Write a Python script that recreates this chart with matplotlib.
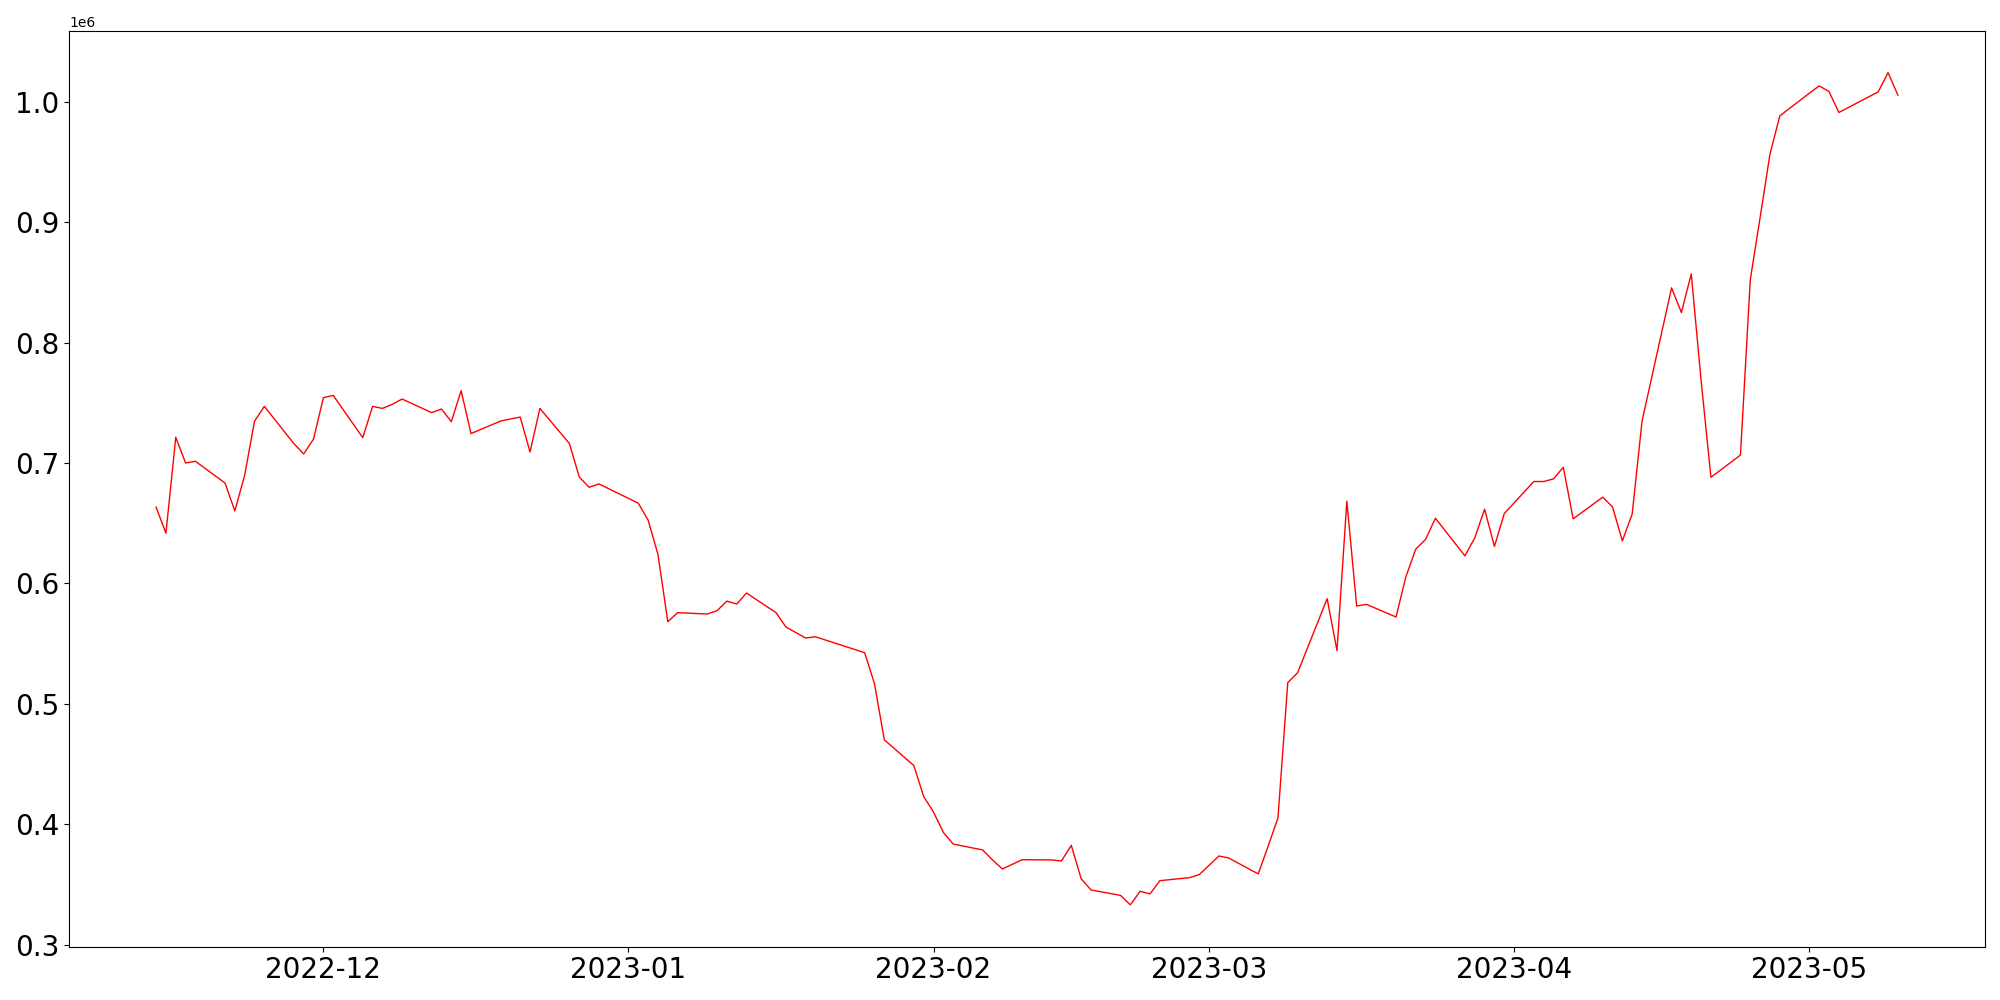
import numpy as np
import pandas as pd
from matplotlib import pyplot as plt

# business days, Nov 14 2022 -> May 10 2023
dates = pd.bdate_range('2022-11-14', '2023-05-10')

nov = [0.6633, 0.6417, 0.7213, 0.7000, 0.7014, 0.6834, 0.6602, 0.6898, 0.7346, 0.7470,
       0.7161, 0.7075, 0.7199]
dec = [0.7542, 0.7561, 0.7210, 0.7470, 0.7453, 0.7487, 0.7531, 0.7418, 0.7448, 0.7343,
       0.7600, 0.7244, 0.7348, 0.7365, 0.7381, 0.7091, 0.7453, 0.7161, 0.6884, 0.6798,
       0.6826, 0.6786]
jan = [0.6666, 0.6525, 0.6240, 0.5682, 0.5757, 0.5746, 0.5773, 0.5853, 0.5829, 0.5920,
       0.5757, 0.5638, 0.5592, 0.5547, 0.5557, 0.5478, 0.5451, 0.5425, 0.5168, 0.4701,
       0.4488, 0.4231]
feb = [0.4102, 0.3933, 0.3836, 0.3787, 0.3704, 0.3629, 0.3667, 0.3706, 0.3704, 0.3696,
       0.3825, 0.3549, 0.3455, 0.3410, 0.3331, 0.3444, 0.3422, 0.3532, 0.3557, 0.3582]
mar = [0.3659, 0.3737, 0.3720, 0.3588, 0.3818, 0.4052, 0.5176, 0.5259, 0.5873, 0.5442,
       0.6682, 0.5812, 0.5826, 0.5721, 0.6055, 0.6284, 0.6365, 0.6541, 0.6229, 0.6378,
       0.6616, 0.6307, 0.6580]
apr = [0.6846, 0.6846, 0.6868, 0.6964, 0.6536, 0.6716, 0.6635, 0.6353, 0.6577, 0.7348,
       0.8454, 0.8249, 0.8570, 0.7686, 0.6881, 0.7066, 0.8522, 0.9039, 0.9565, 0.9882]
may = [1.0070, 1.0131, 1.0084, 0.9910, 0.9953, 1.0081, 1.0241, 1.0054]

values = np.array(nov + dec + jan + feb + mar + apr + may) * 1e6

fig = plt.figure(figsize=(20, 10), dpi=100)
plt.plot(dates[:len(values)], values, color='red', linewidth=1)

plt.xticks(fontsize=20)
plt.yticks(fontsize=20)

plt.subplots_adjust(left=0.0345, right=0.9925, top=0.969, bottom=0.0535)

plt.savefig('out.png')
